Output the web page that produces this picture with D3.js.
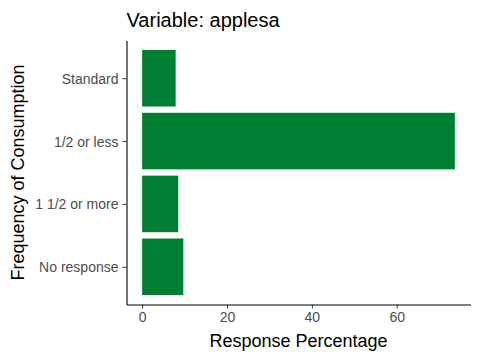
<!DOCTYPE html>
<html><head><meta charset="utf-8">
<script src="https://cdn.jsdelivr.net/npm/d3@7"></script>
<style>body{margin:0;background:#fff;}svg{display:block;}text{font-family:"Liberation Sans",Arial,sans-serif;}</style>
</head><body>
<script>
const categories = ["Standard", "1/2 or less", "1 1/2 or more", "No response"];
const values = [7.9, 73.7, 8.5, 9.7];
const xTicks = [0, 20, 40, 60];
const title = "Variable: applesa";
const xTitle = "Response Percentage";
const yTitle = "Frequency of Consumption";

const W = 480, H = 360;
const m = {left: 126.5, right: 9.5, top: 40.5, bottom: 55.5};
const svg = d3.select("body").append("svg").attr("width", W).attr("height", H);

const maxV = d3.max(values);
const x = d3.scaleLinear().domain([-0.05 * maxV, maxV * 1.05]).range([m.left, W - m.right]);
const yPoint = d3.scalePoint().domain(categories).range([m.top, H - m.bottom]).padding(0.6);
const step = yPoint.step();
const bw = step * 0.9;

svg.append("g").selectAll("rect").data(categories).join("rect")
  .attr("x", x(0))
  .attr("y", d => yPoint(d) - bw / 2)
  .attr("width", (d, i) => x(values[i]) - x(0))
  .attr("height", bw)
  .attr("fill", "#007F34");

const xAxis = d3.axisBottom(x).tickValues(xTicks).tickSize(4).tickPadding(4).tickSizeOuter(0);
const gx = svg.append("g").attr("transform", `translate(0,${H - m.bottom})`).call(xAxis);
gx.select(".domain").attr("stroke", "#000").attr("stroke-width", 1.1);
gx.selectAll(".tick line").attr("stroke", "#333");
gx.selectAll(".tick text").attr("fill", "#4D4D4D").style("font-size", "14px").attr("dy", "0.71em");

const yAxis = d3.axisLeft(yPoint).tickSize(4).tickPadding(4).tickSizeOuter(0);
const gy = svg.append("g").attr("transform", `translate(${m.left},0)`).call(yAxis);
gy.select(".domain").attr("stroke", "#000").attr("stroke-width", 1.1);
gy.selectAll(".tick line").attr("stroke", "#333");
gy.selectAll(".tick text").attr("fill", "#4D4D4D").style("font-size", "14px").attr("dy", "0.36em");

svg.append("text").attr("x", m.left).attr("y", 27).style("font-size", "20px").attr("fill", "#000").text(title);
svg.append("text").attr("x", (m.left + W - m.right) / 2).attr("y", 347).attr("text-anchor", "middle")
  .style("font-size", "18px").attr("fill", "#000").text(xTitle);
svg.append("text").attr("transform", `translate(24,${(m.top + H - m.bottom) / 2}) rotate(-90)`).attr("text-anchor", "middle")
  .style("font-size", "18px").attr("fill", "#000").text(yTitle);
</script>
</body></html>
